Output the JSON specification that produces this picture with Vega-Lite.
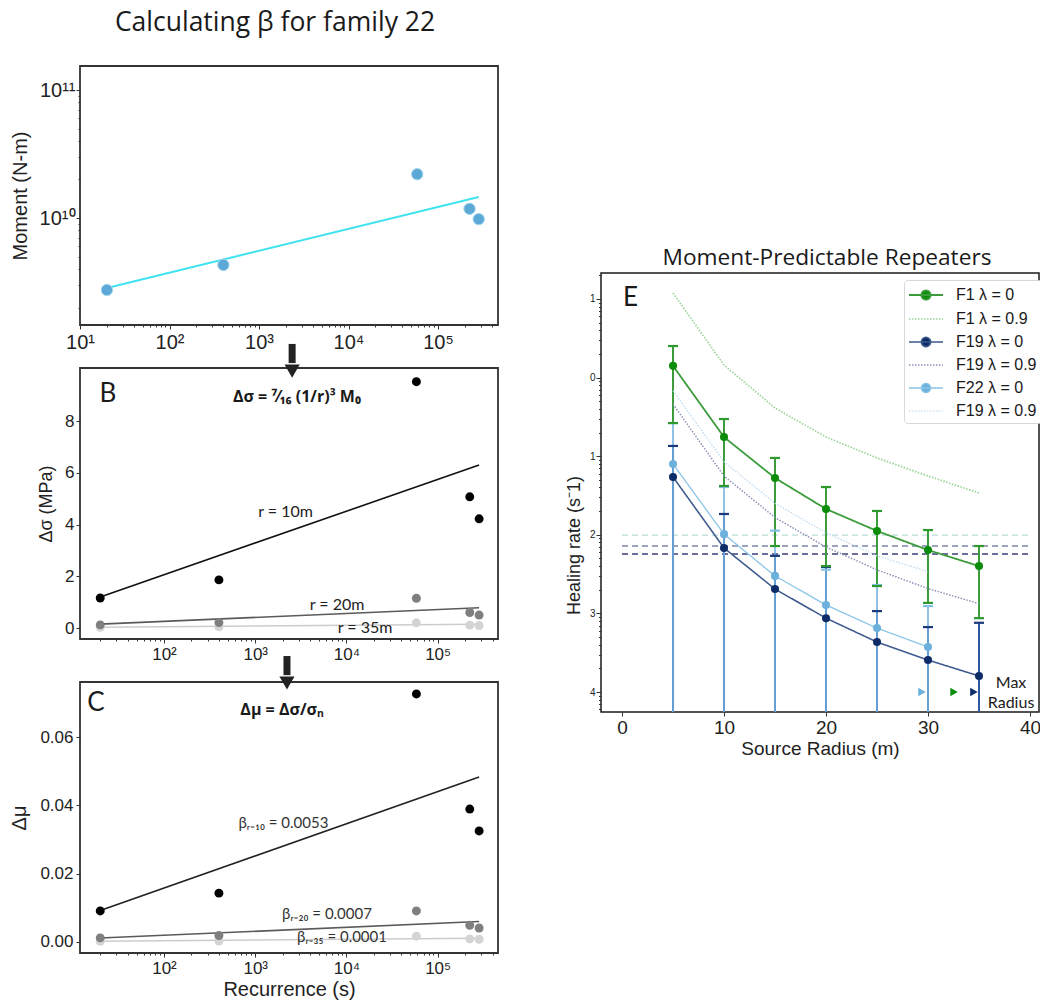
{
  "$schema": "https://vega.github.io/schema/vega-lite/v6.json",
  "autosize": {"type": "pad"},
  "padding": {"left": 8, "top": 8, "right": 0, "bottom": 0},
  "background": "white",
  "config": {
    "font": "Liberation Sans",
    "view": {"stroke": "#333333", "strokeWidth": 1.8},
    "axis": {"domain": false, "grid": false, "labelFont": "Liberation Sans", "labelColor": "#222222", "titleFont": "Liberation Sans", "titleFontWeight": "normal", "titleColor": "#222222", "tickColor": "#333333", "labelFontSize": 17, "titleFontSize": 20, "tickWidth": 1}
  },
  "datasets": {
    "moment": [
      {"rec": 20, "moment": 2.74e9}, {"rec": 400, "moment": 4.3e9}, {"rec": 58500, "moment": 2.2e10}, {"rec": 225000, "moment": 1.18e10}, {"rec": 285000, "moment": 9.8e9}
    ],
    "momentFit": [{"rec": 20, "moment": 2.84e9}, {"rec": 285000, "moment": 1.46e10}],
    "stress": [
      {"r": "35", "rec": 20, "dsig": 0.027, "dmu": 0.0002}, {"r": "35", "rec": 400, "dsig": 0.043, "dmu": 0.0003}, {"r": "35", "rec": 58500, "dsig": 0.2, "dmu": 0.0017}, {"r": "35", "rec": 225000, "dsig": 0.11, "dmu": 0.0009}, {"r": "35", "rec": 285000, "dsig": 0.095, "dmu": 0.0008},
      {"r": "20", "rec": 20, "dsig": 0.12, "dmu": 0.0012}, {"r": "20", "rec": 400, "dsig": 0.21, "dmu": 0.0019}, {"r": "20", "rec": 58500, "dsig": 1.15, "dmu": 0.0091}, {"r": "20", "rec": 225000, "dsig": 0.6, "dmu": 0.0049}, {"r": "20", "rec": 285000, "dsig": 0.5, "dmu": 0.0041},
      {"r": "10", "rec": 20, "dsig": 1.16, "dmu": 0.0091}, {"r": "10", "rec": 400, "dsig": 1.86, "dmu": 0.0143}, {"r": "10", "rec": 58500, "dsig": 9.52, "dmu": 0.0726}, {"r": "10", "rec": 225000, "dsig": 5.07, "dmu": 0.0389}, {"r": "10", "rec": 285000, "dsig": 4.22, "dmu": 0.0325}
    ],
    "stressFit": [
      {"r": "35", "rec": 20, "dsig": 0.03, "dmu": 0.0002}, {"r": "35", "rec": 285000, "dsig": 0.147, "dmu": 0.0011},
      {"r": "20", "rec": 20, "dsig": 0.15, "dmu": 0.00115}, {"r": "20", "rec": 285000, "dsig": 0.78, "dmu": 0.006},
      {"r": "10", "rec": 20, "dsig": 1.2, "dmu": 0.0092}, {"r": "10", "rec": 285000, "dsig": 6.3, "dmu": 0.0483}
    ],
    "bLetter": [{"rec": 24.3, "dsig": 9.045, "label": "B"}],
    "bEq": [{"rec": 2870, "dsig": 8.93, "label": "Δσ = ⁷⁄₁₆ (1/r)³ M₀"}],
    "bLabels": [
      {"rec": 2150, "dsig": 4.485, "label": "r = 10m"},
      {"rec": 7890, "dsig": 0.89, "label": "r = 20m"},
      {"rec": 16000, "dsig": 0.0, "label": "r = 35m"}
    ],
    "bArrow": [{"rec": 2540, "dsig": 10.98, "dsig2": 10.24}],
    "bArrowTip": [{"rec": 2540, "dsig": 9.93}],
    "cLetter": [{"rec": 18.0, "dmu": 0.07, "label": "C"}],
    "cEq": [{"rec": 1970, "dmu": 0.0679, "label": "Δμ = Δσ/σₙ"}],
    "cLabels": [
      {"rec": 2040, "dmu": 0.0348, "label": "βᵣ₌₁₀ = 0.0053"},
      {"rec": 6120, "dmu": 0.0082, "label": "βᵣ₌₂₀ = 0.0007"},
      {"rec": 8950, "dmu": 0.0015, "label": "βᵣ₌₃₅ = 0.0001"}
    ],
    "cArrow": [{"rec": 2230, "dmu": 0.0837, "dmu2": 0.0781}],
    "cArrowTip": [{"rec": 2230, "dmu": 0.0758}],
    "eLines": [
      {"key": "b", "r": 5, "rate": 11.9}, {"key": "b", "r": 10, "rate": 1.445}, {"key": "b", "r": 15, "rate": 0.41}, {"key": "b", "r": 20, "rate": 0.175}, {"key": "b", "r": 25, "rate": 0.095}, {"key": "b", "r": 30, "rate": 0.056}, {"key": "b", "r": 35, "rate": 0.034},
      {"key": "d", "r": 5, "rate": 0.46}, {"key": "d", "r": 10, "rate": 0.056}, {"key": "d", "r": 15, "rate": 0.0166}, {"key": "d", "r": 20, "rate": 0.007}, {"key": "d", "r": 25, "rate": 0.00358}, {"key": "d", "r": 30, "rate": 0.00207}, {"key": "d", "r": 35, "rate": 0.00133},
      {"key": "f", "r": 5, "rate": 0.68}, {"key": "f", "r": 10, "rate": 0.085}, {"key": "f", "r": 15, "rate": 0.0252}, {"key": "f", "r": 20, "rate": 0.0106}, {"key": "f", "r": 25, "rate": 0.0054}, {"key": "f", "r": 30, "rate": 0.0034},
      {"key": "c", "r": 5, "rate": 0.0543}, {"key": "c", "r": 10, "rate": 0.0068}, {"key": "c", "r": 15, "rate": 0.00204}, {"key": "c", "r": 20, "rate": 0.00087}, {"key": "c", "r": 25, "rate": 0.000432}, {"key": "c", "r": 30, "rate": 0.000255}, {"key": "c", "r": 35, "rate": 0.00016},
      {"key": "e", "r": 5, "rate": 0.0796}, {"key": "e", "r": 10, "rate": 0.0102}, {"key": "e", "r": 15, "rate": 0.003}, {"key": "e", "r": 20, "rate": 0.00128}, {"key": "e", "r": 25, "rate": 0.00065}, {"key": "e", "r": 30, "rate": 0.000374},
      {"key": "a", "r": 5, "rate": 1.41}, {"key": "a", "r": 10, "rate": 0.175}, {"key": "a", "r": 15, "rate": 0.0528}, {"key": "a", "r": 20, "rate": 0.0213}, {"key": "a", "r": 25, "rate": 0.0112}, {"key": "a", "r": 30, "rate": 0.0064}, {"key": "a", "r": 35, "rate": 0.004}
    ],
    "eErr": [
      {"key": "c", "r": 5, "lo": 1e-5, "hi": 0.135}, {"key": "c", "r": 10, "lo": 1e-5, "hi": 0.0184}, {"key": "c", "r": 15, "lo": 1e-5, "hi": 0.0054}, {"key": "c", "r": 20, "lo": 1e-5, "hi": 0.0039}, {"key": "c", "r": 25, "lo": 1e-5, "hi": 0.00107}, {"key": "c", "r": 30, "lo": 1e-5, "hi": 0.00067}, {"key": "c", "r": 35, "lo": 1e-5, "hi": 0.00076},
      {"key": "e", "r": 5, "lo": 1e-5, "hi": 0.264}, {"key": "e", "r": 10, "lo": 1e-5, "hi": 0.0405}, {"key": "e", "r": 15, "lo": 1e-5, "hi": 0.0113}, {"key": "e", "r": 20, "lo": 1e-5, "hi": 0.0036}, {"key": "e", "r": 25, "lo": 1e-5, "hi": 0.0023}, {"key": "e", "r": 30, "lo": 1e-5, "hi": 0.00124},
      {"key": "a", "r": 5, "lo": 0.264, "hi": 2.52}, {"key": "a", "r": 10, "lo": 0.0418, "hi": 0.297}, {"key": "a", "r": 15, "lo": 0.0072, "hi": 0.095}, {"key": "a", "r": 20, "lo": 0.004, "hi": 0.0405}, {"key": "a", "r": 25, "lo": 0.00223, "hi": 0.0201}, {"key": "a", "r": 30, "lo": 0.00136, "hi": 0.0115}, {"key": "a", "r": 35, "lo": 0.00087, "hi": 0.0072}
    ],
    "eMax": [{"key": "e", "r": 29.41, "rate": 0.0001}, {"key": "a", "r": 32.55, "rate": 0.0001}, {"key": "c", "r": 34.5, "rate": 0.0001}],
    "eMaxText": [{"r": 38.14, "rate": 0.00013, "label": "Max"}, {"r": 38.14, "rate": 0.0000724, "label": "Radius"}],
    "eLetter": [{"r": 0.1, "rate": 10.3, "label": "E"}],
    "tg": [
      {"label": "TG λ = 0", "x0": 0, "x1": 40, "rate": 0.0099, "ty": 0.0129},
      {"label": "λ = 0.2", "x0": 0, "x1": 40, "rate": 0.0072, "ty": 0.0072},
      {"label": "λ = 0.8", "x0": 0, "x1": 40, "rate": 0.0057, "ty": 0.00437}
    ]
  },
  "spacing": 65,
  "resolve": {"scale": {"fill": "independent", "stroke": "independent", "color": "independent", "strokeDash": "independent", "strokeWidth": "independent"}},
  "hconcat": [
    {
      "bounds": "flush",
      "spacing": 43,
      "resolve": {"scale": {"fill": "independent", "stroke": "independent"}},
      "vconcat": [
        {
          "width": 418,
          "height": 259,
          "title": {"text": "Calculating β for family 22", "font": "Open Sans", "fontSize": 26.5, "fontWeight": "normal", "color": "#1a1a1a", "offset": 30, "dx": -14},
          "encoding": {
            "x": {"field": "rec", "type": "quantitative", "scale": {"type": "log", "domain": [10, 468000], "nice": false},
              "axis": {"title": null, "labelFontSize": 20, "labelPadding": 3, "labelOverlap": false, "labelFlush": false,
                "values": [10,20,30,40,50,60,70,80,90,100,200,300,400,500,600,700,800,900,1000,2000,3000,4000,5000,6000,7000,8000,9000,10000,20000,30000,40000,50000,60000,70000,80000,90000,100000,200000,300000,400000],
                "labelExpr": "datum.value===10?'10¹':datum.value===100?'10²':datum.value===1000?'10³':datum.value===10000?'10⁴':datum.value===100000?'10⁵':''",
                "tickSize": {"condition": {"test": "indexof([10,100,1000,10000,100000], datum.value) >= 0", "value": 4}, "value": 2}}},
            "y": {"field": "moment", "type": "quantitative", "scale": {"type": "log", "domain": [1.46e9, 1.54e11], "nice": false},
              "axis": {"title": "Moment (N-m)", "titleFontSize": 20, "titleX": -50, "labelFontSize": 20, "labelPadding": 1, "labelOverlap": false,
                "values": [2e9,3e9,4e9,5e9,6e9,7e9,8e9,9e9,1e10,2e10,3e10,4e10,5e10,6e10,7e10,8e10,9e10,1e11],
                "labelExpr": "datum.value===1e10?'10¹⁰':datum.value===1e11?'10¹¹':''",
                "tickSize": {"condition": {"test": "indexof([1e10,1e11], datum.value) >= 0", "value": 4}, "value": 2}}}
          },
          "layer": [
            {"data": {"name": "momentFit"}, "mark": {"type": "line", "color": "#3fe3f0", "strokeWidth": 2}},
            {"data": {"name": "moment"}, "mark": {"type": "point", "filled": true, "size": 130, "fill": "#5ca8d6", "stroke": "#a6d8f0", "strokeWidth": 1, "opacity": 1}}
          ]
        },
        {
          "width": 418,
          "height": 271,
          "encoding": {
            "x": {"field": "rec", "type": "quantitative", "scale": {"type": "log", "domain": [12, 459000], "nice": false},
              "axis": {"title": null, "labelFontSize": 17, "labelPadding": 3, "labelOverlap": false, "labelFlush": false,
                "values": [20,30,40,50,60,70,80,90,100,200,300,400,500,600,700,800,900,1000,2000,3000,4000,5000,6000,7000,8000,9000,10000,20000,30000,40000,50000,60000,70000,80000,90000,100000,200000,300000,400000],
                "labelExpr": "datum.value===100?'10²':datum.value===1000?'10³':datum.value===10000?'10⁴':datum.value===100000?'10⁵':''",
                "tickSize": {"condition": {"test": "indexof([100,1000,10000,100000], datum.value) >= 0", "value": 4}, "value": 2}}},
            "y": {"field": "dsig", "type": "quantitative", "scale": {"domain": [-0.425, 10.05], "nice": false, "zero": false},
              "axis": {"title": "Δσ (MPa)", "titleFontSize": 18, "titleX": -25, "values": [0, 2, 4, 6, 8], "labelFontSize": 17, "labelPadding": 2, "tickSize": 4}}
          },
          "layer": [
            {"data": {"name": "stressFit"}, "mark": {"type": "line", "strokeWidth": 1.6},
              "encoding": {"stroke": {"field": "r", "type": "nominal", "scale": {"domain": ["10", "20", "35"], "range": ["#111111", "#5a5a5a", "#cccccc"]}, "legend": null}}},
            {"data": {"name": "stress"}, "mark": {"type": "point", "filled": true, "size": 80, "opacity": 1},
              "encoding": {"fill": {"field": "r", "type": "nominal", "scale": {"domain": ["10", "20", "35"], "range": ["#000000", "#7f7f7f", "#d4d4d4"]}, "legend": null}}},
            {"data": {"name": "bLetter"}, "mark": {"type": "text", "font": "Lato", "fontSize": 26, "color": "#1a1a1a", "align": "center", "baseline": "middle"},
              "encoding": {"text": {"field": "label"}}},
            {"data": {"name": "bEq"}, "mark": {"type": "text", "font": "Open Sans", "fontSize": 16, "fontWeight": "bold", "color": "#1a1a1a", "align": "center", "baseline": "middle"},
              "encoding": {"text": {"field": "label"}}},
            {"data": {"name": "bLabels"}, "mark": {"type": "text", "font": "Lato", "fontSize": 16, "color": "#222222", "align": "center", "baseline": "middle"},
              "encoding": {"text": {"field": "label"}}},
            {"data": {"name": "bArrow"}, "mark": {"type": "rule", "strokeWidth": 7, "color": "#222222"},
              "encoding": {"y2": {"field": "dsig2"}}},
            {"data": {"name": "bArrowTip"}, "mark": {"type": "point", "shape": "triangle-down", "filled": true, "size": 230, "color": "#222222", "opacity": 1}}
          ]
        },
        {
          "width": 418,
          "height": 271,
          "encoding": {
            "x": {"field": "rec", "type": "quantitative", "scale": {"type": "log", "domain": [12, 459000], "nice": false},
              "axis": {"title": "Recurrence (s)", "titleFontSize": 20, "titlePadding": 3, "labelFontSize": 17, "labelPadding": 3, "labelOverlap": false, "labelFlush": false,
                "values": [20,30,40,50,60,70,80,90,100,200,300,400,500,600,700,800,900,1000,2000,3000,4000,5000,6000,7000,8000,9000,10000,20000,30000,40000,50000,60000,70000,80000,90000,100000,200000,300000,400000],
                "labelExpr": "datum.value===100?'10²':datum.value===1000?'10³':datum.value===10000?'10⁴':datum.value===100000?'10⁵':''",
                "tickSize": {"condition": {"test": "indexof([100,1000,10000,100000], datum.value) >= 0", "value": 4}, "value": 2}}},
            "y": {"field": "dmu", "type": "quantitative", "scale": {"domain": [-0.00322, 0.0761], "nice": false, "zero": false},
              "axis": {"title": "Δμ", "titleFontSize": 20, "titleX": -51, "values": [0, 0.02, 0.04, 0.06], "format": ".2f", "labelFontSize": 17, "labelPadding": 3, "tickSize": 4}}
          },
          "layer": [
            {"data": {"name": "stressFit"}, "mark": {"type": "line", "strokeWidth": 1.6},
              "encoding": {"stroke": {"field": "r", "type": "nominal", "scale": {"domain": ["10", "20", "35"], "range": ["#222222", "#5a5a5a", "#cccccc"]}, "legend": null}}},
            {"data": {"name": "stress"}, "mark": {"type": "point", "filled": true, "size": 80, "opacity": 1},
              "encoding": {"fill": {"field": "r", "type": "nominal", "scale": {"domain": ["10", "20", "35"], "range": ["#000000", "#7f7f7f", "#d4d4d4"]}, "legend": null}}},
            {"data": {"name": "cLetter"}, "mark": {"type": "text", "font": "Lato", "fontSize": 26, "color": "#1a1a1a", "align": "center", "baseline": "middle"},
              "encoding": {"text": {"field": "label"}}},
            {"data": {"name": "cEq"}, "mark": {"type": "text", "font": "Open Sans", "fontSize": 16, "fontWeight": "bold", "color": "#1a1a1a", "align": "center", "baseline": "middle"},
              "encoding": {"text": {"field": "label"}}},
            {"data": {"name": "cLabels"}, "mark": {"type": "text", "font": "Lato", "fontSize": 15, "color": "#333333", "align": "center", "baseline": "middle"},
              "encoding": {"text": {"field": "label"}}},
            {"data": {"name": "cArrow"}, "mark": {"type": "rule", "strokeWidth": 7, "color": "#222222"},
              "encoding": {"y2": {"field": "dmu2"}}},
            {"data": {"name": "cArrowTip"}, "mark": {"type": "point", "shape": "triangle-down", "filled": true, "size": 230, "color": "#222222", "opacity": 1}}
          ]
        }
      ]
    },
    {
      "bounds": "flush",
      "spacing": 20,
      "vconcat": [
        {"width": 438, "height": 187, "view": {"stroke": null, "fill": "white"}, "data": {"values": []}, "mark": "point", "encoding": {}},
        {
          "width": 438,
          "height": 439,
          "view": {"stroke": "#1a1a1a", "strokeWidth": 1.5},
          "title": {"text": "Moment-Predictable Repeaters", "font": "Open Sans", "fontSize": 22.7, "fontWeight": "normal", "color": "#1a1a1a", "offset": 1, "dx": 7},
          "encoding": {
            "x": {"field": "r", "type": "quantitative", "scale": {"domain": [-2.06, 40.88], "nice": false, "zero": false},
              "axis": {"title": "Source Radius (m)", "titleFontSize": 19, "titlePadding": 2, "values": [0, 10, 20, 30, 40], "labelFontSize": 19, "labelPadding": 2, "tickSize": 4, "labelFlush": false}},
            "y": {"field": "rate", "type": "quantitative", "scale": {"type": "log", "domain": [0.0000557, 21.4], "nice": false},
              "axis": {"title": "Healing rate (s⁻1)", "titleFontSize": 18, "titleX": -18, "titleY": 272, "labelFontSize": 10, "labelPadding": 1, "labelOverlap": false,
                "values": [0.00006,0.00007,0.00008,0.00009,0.0001,0.0002,0.0003,0.0004,0.0005,0.0006,0.0007,0.0008,0.0009,0.001,0.002,0.003,0.004,0.005,0.006,0.007,0.008,0.009,0.01,0.02,0.03,0.04,0.05,0.06,0.07,0.08,0.09,0.1,0.2,0.3,0.4,0.5,0.6,0.7,0.8,0.9,1,2,3,4,5,6,7,8,9,10,20],
                "labelExpr": "datum.value===10?'1':datum.value===1?'0':datum.value===0.1?'1':datum.value===0.01?'2':datum.value===0.001?'3':datum.value===0.0001?'4':''",
                "tickSize": {"condition": {"test": "indexof([10,1,0.1,0.01,0.001,0.0001], datum.value) >= 0", "value": 5}, "value": 2.5}}}
          },
          "layer": [
            {"data": {"name": "tg"}, "mark": {"type": "rule", "strokeDash": [6, 4], "strokeWidth": 1.3},
              "encoding": {"x": {"field": "x0"}, "x2": {"field": "x1"},
                "stroke": {"field": "label", "type": "nominal", "scale": {"domain": ["TG λ = 0", "λ = 0.2", "λ = 0.8"], "range": ["#bcdcd8", "#7b86a6", "#3b3f78"]}, "legend": null}}},
            {"data": {"name": "tg"}, "mark": {"type": "text", "font": "Liberation Sans", "fontSize": 12, "color": "#333333", "align": "right", "baseline": "middle"},
              "encoding": {"x": {"datum": 39.8}, "y": {"field": "ty"}, "text": {"field": "label"}}},
            {"data": {"name": "eErr"}, "transform": [{"filter": "datum.key==='c'"}], "mark": {"type": "rule", "clip": true, "strokeWidth": 2, "color": "#2f58a0"},
              "encoding": {"y": {"field": "lo"}, "y2": {"field": "hi"}}},
            {"data": {"name": "eErr"}, "transform": [{"filter": "datum.key==='e'"}], "mark": {"type": "rule", "clip": true, "strokeWidth": 2, "color": "#74b2e0", "opacity": 0.8},
              "encoding": {"y": {"field": "lo"}, "y2": {"field": "hi"}}},
            {"data": {"name": "eErr"}, "transform": [{"filter": "datum.key==='a'"}], "mark": {"type": "rule", "clip": true, "strokeWidth": 2, "color": "#3c9c3c"},
              "encoding": {"y": {"field": "lo"}, "y2": {"field": "hi"}}},
            {"data": {"name": "eErr"}, "transform": [{"filter": "datum.key==='c'"}], "mark": {"type": "tick", "orient": "horizontal", "thickness": 2.2, "size": 10, "color": "#1a3a7a", "opacity": 1},
              "encoding": {"y": {"field": "hi"}}},
            {"data": {"name": "eErr"}, "transform": [{"filter": "datum.key==='e'"}], "mark": {"type": "tick", "orient": "horizontal", "thickness": 2.2, "size": 10, "color": "#86c0e8", "opacity": 1},
              "encoding": {"y": {"field": "hi"}}},
            {"data": {"name": "eErr"}, "transform": [{"filter": "datum.key==='a'"}], "mark": {"type": "tick", "orient": "horizontal", "thickness": 2.2, "size": 10, "color": "#2e9a2e", "opacity": 1},
              "encoding": {"y": {"field": "hi"}}},
            {"data": {"name": "eErr"}, "transform": [{"filter": "datum.key==='a'"}], "mark": {"type": "tick", "orient": "horizontal", "thickness": 2.2, "size": 10, "color": "#2e9a2e", "opacity": 1},
              "encoding": {"y": {"field": "lo"}}},
            {"data": {"name": "eLines"}, "mark": {"type": "line"},
              "encoding": {
                "color": {"field": "key", "type": "nominal",
                  "scale": {"domain": ["a", "b", "c", "d", "e", "f"], "range": ["#3c9c3c", "#9ad49a", "#3d5a8e", "#8c8fb5", "#8cc5e8", "#b7d7f0"]},
                  "legend": {"title": null, "orient": "none", "legendX": 303, "legendY": 214,
                    "labelExpr": "datum.value==='a'?'F1 λ = 0':datum.value==='b'?'F1 λ = 0.9':datum.value==='c'?'F19 λ = 0':datum.value==='d'?'F19 λ = 0.9':datum.value==='e'?'F22 λ = 0':'F19 λ = 0.9'",
                    "labelFont": "Liberation Sans", "labelFontSize": 16, "labelColor": "#1a1a1a", "labelOffset": 26,
                    "symbolSize": 400, "symbolStrokeWidth": 1.8, "rowPadding": 4, "padding": 4,
                    "fillColor": "white", "strokeColor": "#d9d9d9", "cornerRadius": 3,
                    "encode": {"symbols": {"update": {
                      "shape": [{"test": "datum.value==='a'||datum.value==='c'||datum.value==='e'", "value": "M-1,0H2.4M0.24,0A0.46,0.46,0,1,1,1.16,0A0.46,0.46,0,1,1,0.24,0Z"}, {"value": "M-1,0H2.4"}],
                      "fill": [{"test": "datum.value==='a'", "value": "#0b8c0b"}, {"test": "datum.value==='c'", "value": "#0d2c68"}, {"test": "datum.value==='e'", "value": "#6cb0dc"}, {"value": "transparent"}],
                      "strokeDash": [{"test": "datum.value==='b'||datum.value==='d'||datum.value==='f'", "value": [1.5, 1.5]}, {"value": [1, 0]}]
                    }}}}},
                "strokeDash": {"field": "key", "type": "nominal", "scale": {"domain": ["a", "b", "c", "d", "e", "f"], "range": [[1, 0], [1.5, 1.5], [1, 0], [1.5, 1.5], [1, 0], [1.5, 1.5]]}, "legend": null},
                "strokeWidth": {"field": "key", "type": "nominal", "scale": {"domain": ["a", "b", "c", "d", "e", "f"], "range": [1.8, 1.2, 1.8, 1.2, 1.8, 1.2]}, "legend": null}
              }},
            {"data": {"name": "eLines"}, "transform": [{"filter": "datum.key==='c'||datum.key==='e'||datum.key==='a'"}], "mark": {"type": "point", "filled": true, "size": 65, "opacity": 1},
              "encoding": {"fill": {"field": "key", "type": "nominal", "scale": {"domain": ["a", "c", "e"], "range": ["#0b8c0b", "#0d2c68", "#6cb0dc"]}, "legend": null}}},
            {"data": {"name": "eMax"}, "mark": {"type": "point", "shape": "triangle-right", "filled": true, "size": 75, "opacity": 1},
              "encoding": {"fill": {"field": "key", "type": "nominal", "scale": {"domain": ["a", "c", "e"], "range": ["#0b8c0b", "#0d2c68", "#6cb0dc"]}, "legend": null}}},
            {"data": {"name": "eMaxText"}, "mark": {"type": "text", "font": "Lato", "fontSize": 16, "color": "#1a1a1a", "align": "center", "baseline": "middle"},
              "encoding": {"text": {"field": "label"}}},
            {"data": {"name": "eLetter"}, "mark": {"type": "text", "font": "Lato", "fontSize": 26, "color": "#1a1a1a", "align": "left", "baseline": "middle"},
              "encoding": {"text": {"field": "label"}}}
          ]
        }
      ]
    }
  ]
}
